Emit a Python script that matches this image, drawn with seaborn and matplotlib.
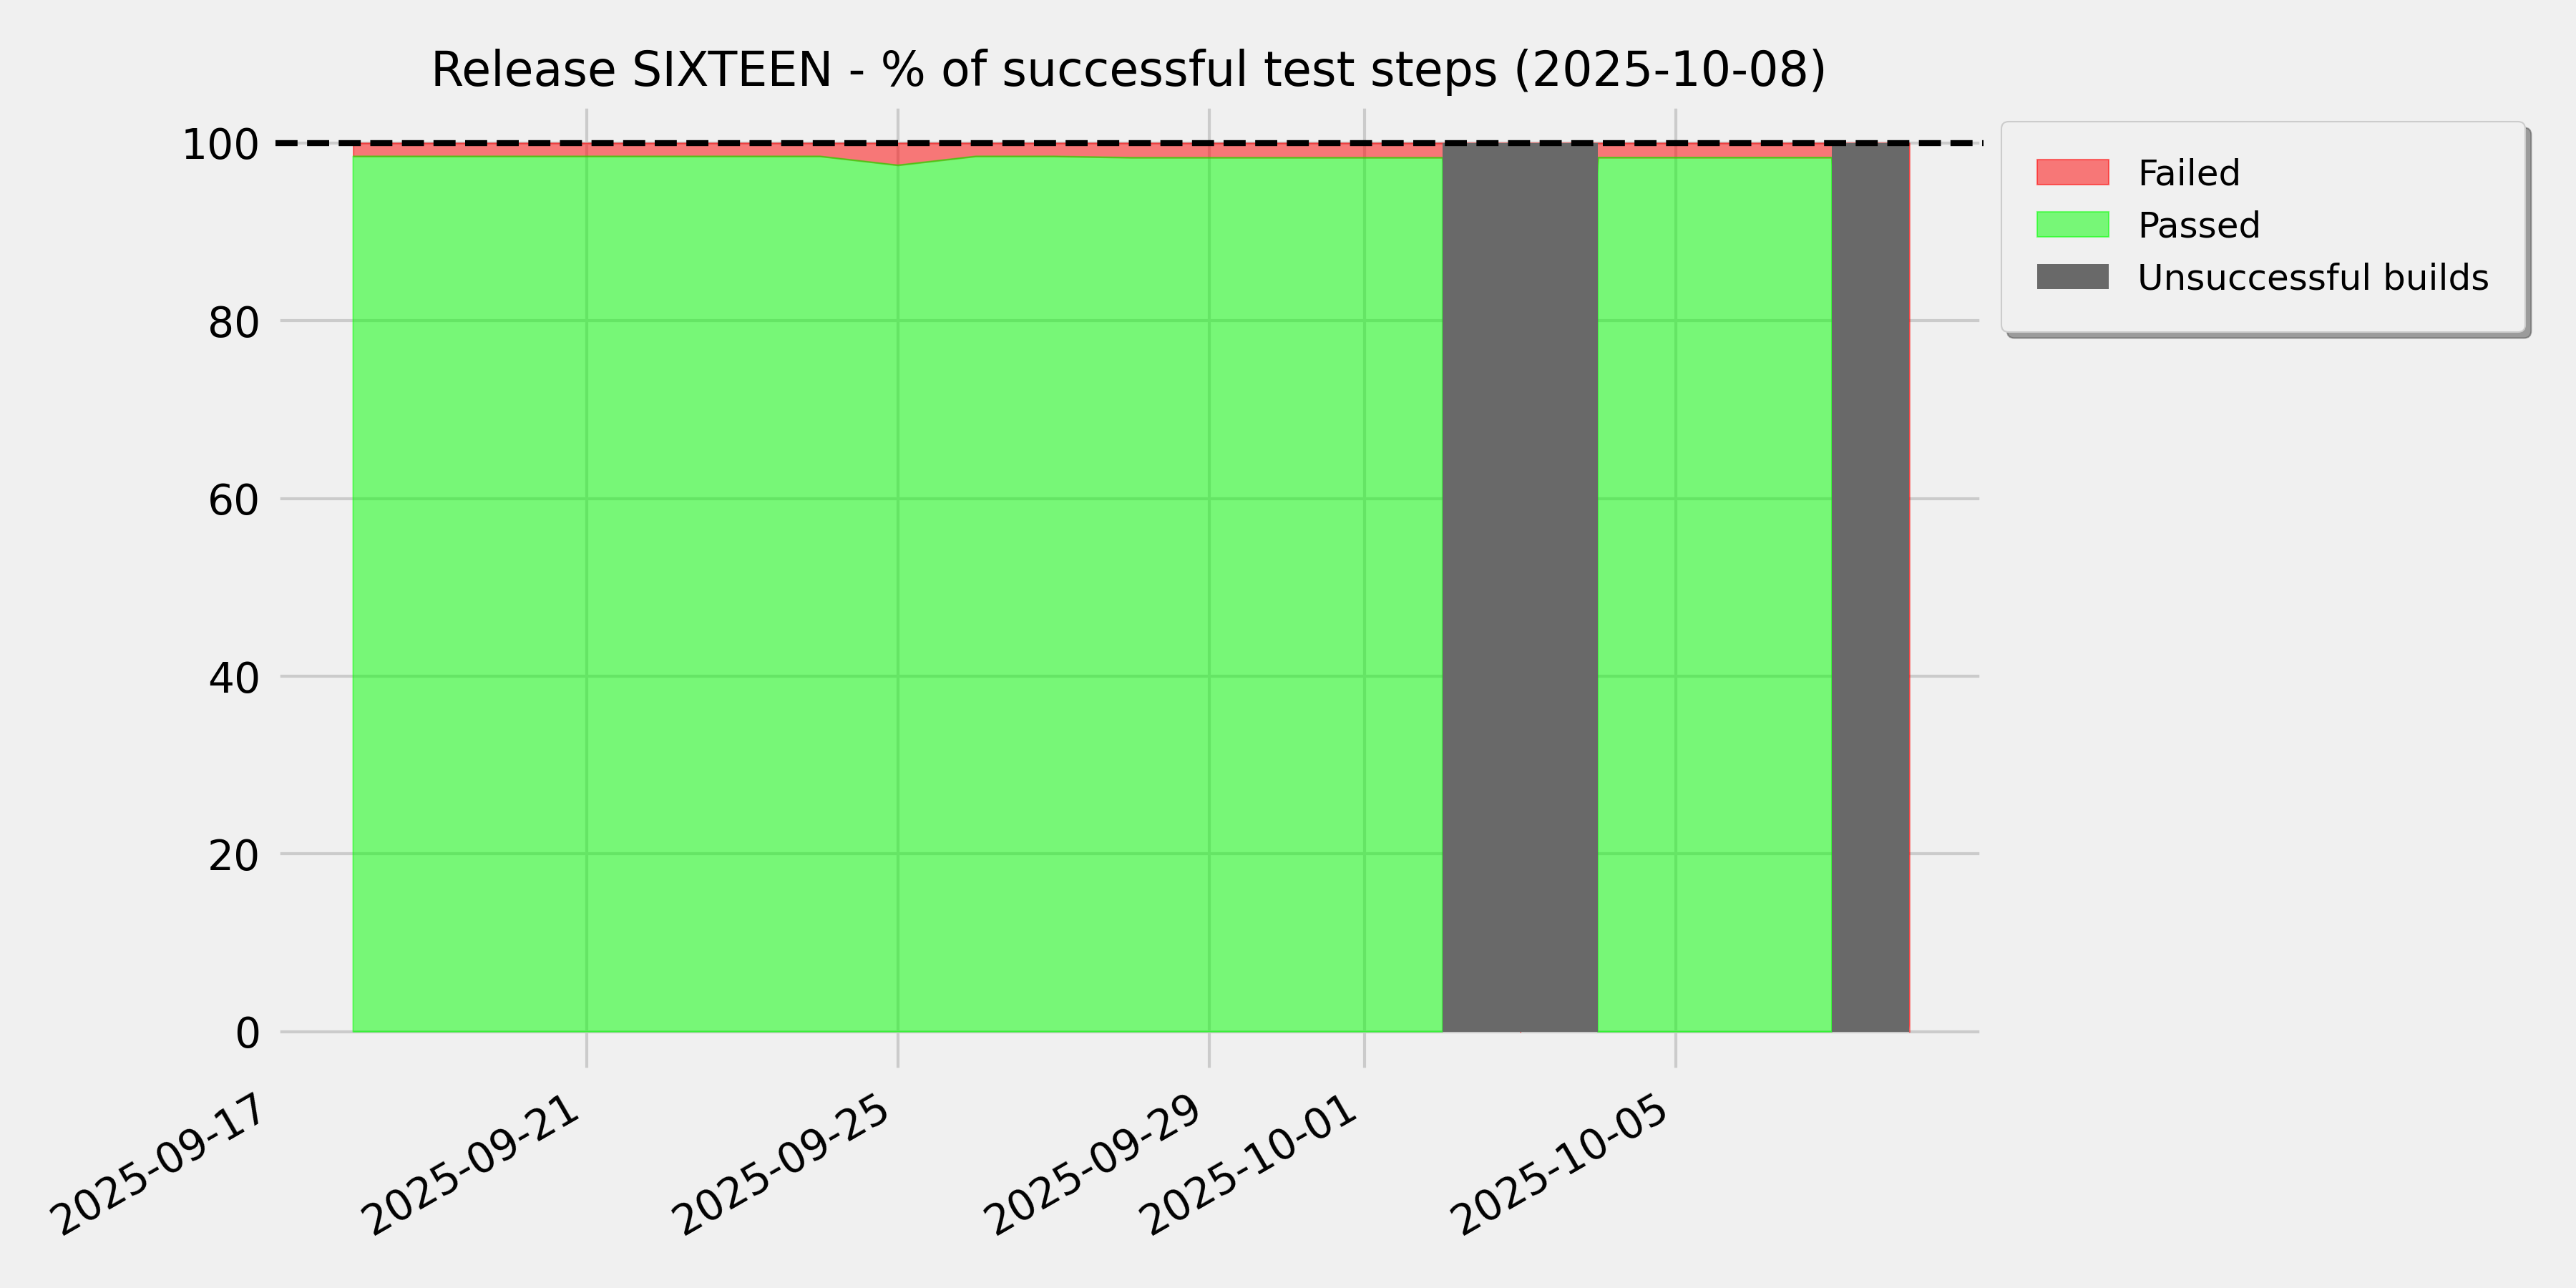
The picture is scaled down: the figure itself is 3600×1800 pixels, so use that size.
import numpy as np
import pandas as pd
import matplotlib.pyplot as plt
import seaborn as sns

# Daily test-step results for release SIXTEEN
dates = ['2025-09-18', '2025-09-19', '2025-09-20', '2025-09-21', '2025-09-22',
         '2025-09-23', '2025-09-24', '2025-09-25', '2025-09-26', '2025-09-27',
         '2025-09-28', '2025-09-29', '2025-09-30', '2025-10-01', '2025-10-02',
         '2025-10-03', '2025-10-04', '2025-10-05', '2025-10-06', '2025-10-07',
         '2025-10-08']
passed_pct = [98.5, 98.5, 98.5, 98.5, 98.5,
              98.5, 98.5, 97.5, 98.5, 98.5,
              98.35, 98.35, 98.35, 98.35, 98.35,
              np.nan, 98.35, 98.35, 98.35, 98.35,
              np.nan]
unsuccessful_dates = ['2025-10-02', '2025-10-03', '2025-10-07']
unsuccessful_pct = [100, 100, 100]

df = pd.DataFrame({'date': pd.to_datetime(dates), 'passed': passed_pct})
df['failed_base'] = df['passed'].fillna(0)

# fivethirtyeight look through seaborn
sns.set_theme(style="whitegrid", rc=dict(plt.style.library['fivethirtyeight']))
sns.set_style(rc={'axes.facecolor': '#f0f0f0', 'figure.facecolor': '#f0f0f0',
                  'grid.color': '#cbcbcb', 'axes.edgecolor': '#f0f0f0',
                  'text.color': 'black', 'xtick.color': 'black', 'ytick.color': 'black'})

fig, ax = plt.subplots(figsize=(12, 6), dpi=300)

ax.fill_between(df['date'], df['failed_base'], 100, color='red', alpha=0.5, label='Failed')
ax.fill_between(df['date'], 0, df['passed'], color='lime', alpha=0.5, label='Passed')
ax.bar(pd.to_datetime(unsuccessful_dates), unsuccessful_pct, width=1, align='edge',
       color='dimgray', linewidth=0, label='Unsuccessful builds', zorder=2)
ax.axhline(100, color='black', linestyle='--', linewidth=2, zorder=3)

ax.set_xlim(pd.Timestamp('2025-09-17'), pd.Timestamp('2025-10-08 22:48'))
ax.set_ylim(-4.5, 104.4)

ax.set_title('Release SIXTEEN - % of successful test steps (2025-10-08)', fontsize=16, color='black')
ax.tick_params(axis='both', labelsize=14, pad=5, length=0, colors='black')
ax.legend(loc='upper left', bbox_to_anchor=(1, 1), fontsize=12, shadow=True,
          fancybox=True, borderpad=1.0)

fig.autofmt_xdate(rotation=30, ha='right')
fig.subplots_adjust(left=0.1069, right=0.7699, top=0.9194, bottom=0.1679)

plt.savefig('out.png', facecolor=fig.get_facecolor())
plt.close()
